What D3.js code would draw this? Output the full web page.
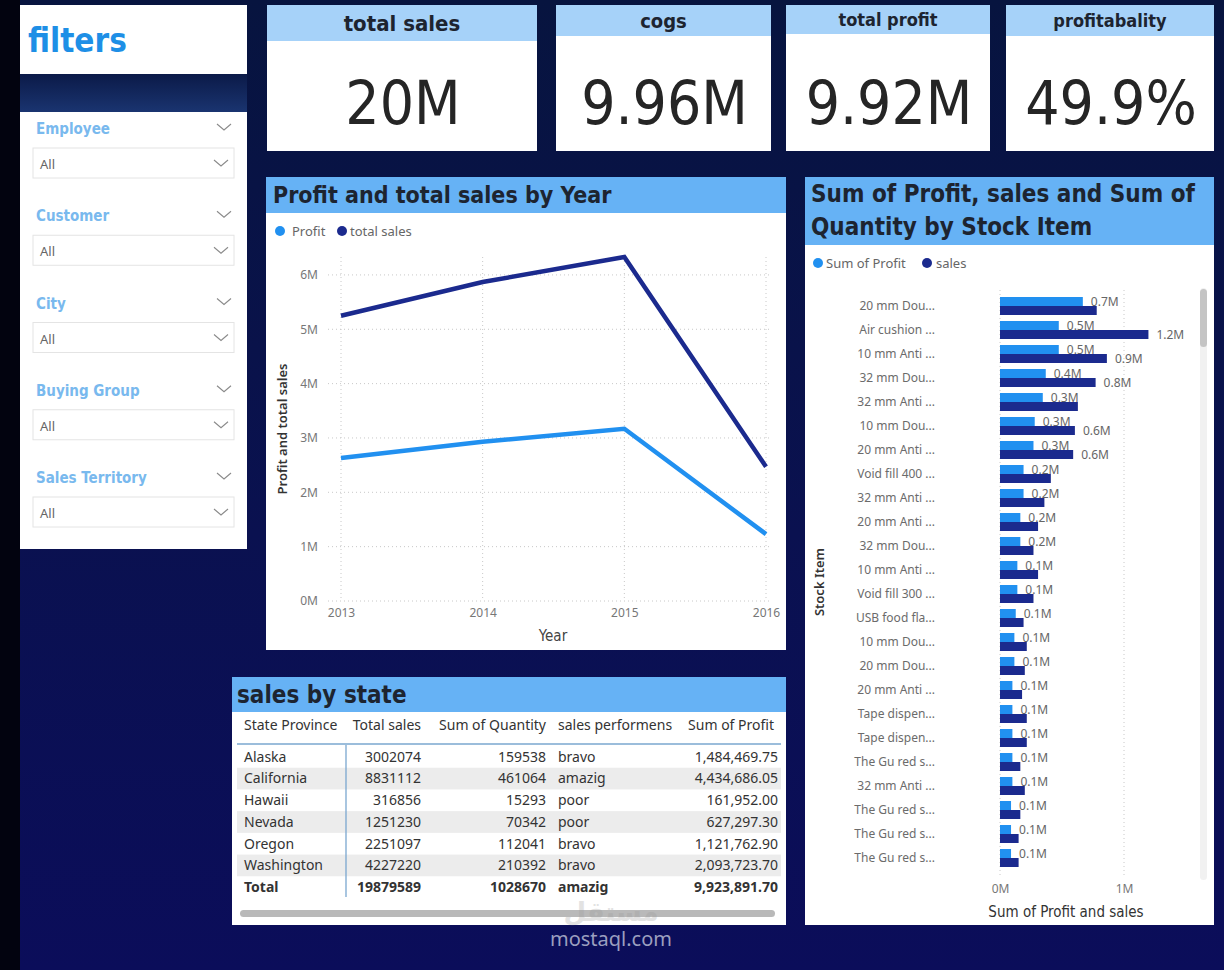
<!DOCTYPE html>
<html>
<head>
<meta charset="utf-8">
<script src="https://cdn.jsdelivr.net/npm/d3@7"></script>
<style>
  body { margin: 0; background: #000; }
  svg { display: block; }
</style>
</head>
<body>
<script>
// ---- data ----
const kpiLabels = ["total sales", "cogs", "total profit", "profitabality"];
const kpiValues = ["20M", "9.96M", "9.92M", "49.9%"];

const filterNames = ["Employee", "Customer", "City", "Buying Group", "Sales Territory"];

const years = [2013, 2014, 2015, 2016];
const profitByYear = [2.63e6, 2.93e6, 3.17e6, 1.23e6];
const salesByYear = [5.25e6, 5.87e6, 6.33e6, 2.47e6];

const stockItems = [
  "20 mm Dou...", "Air cushion ...", "10 mm Anti ...", "32 mm Dou...", "32 mm Anti ...",
  "10 mm Dou...", "20 mm Anti ...", "Void fill 400 ...", "32 mm Anti ...", "20 mm Anti ...",
  "32 mm Dou...", "10 mm Anti ...", "Void fill 300 ...", "USB food fla...", "10 mm Dou...",
  "20 mm Dou...", "20 mm Anti ...", "Tape dispen...", "Tape dispen...", "The Gu red s...",
  "32 mm Anti ...", "The Gu red s...", "The Gu red s...", "The Gu red s..."
];
const itemProfit = [
  0.668e6, 0.474e6, 0.474e6, 0.369e6, 0.345e6, 0.28e6, 0.27e6, 0.19e6, 0.19e6, 0.164e6,
  0.164e6, 0.14e6, 0.14e6, 0.127e6, 0.116e6, 0.116e6, 0.10e6, 0.10e6, 0.10e6, 0.10e6,
  0.10e6, 0.089e6, 0.089e6, 0.089e6
];
const itemSales = [
  0.78e6, 1.197e6, 0.862e6, 0.771e6, 0.628e6, 0.604e6, 0.59e6, 0.41e6, 0.358e6, 0.307e6,
  0.27e6, 0.307e6, 0.27e6, 0.19e6, 0.216e6, 0.2e6, 0.178e6, 0.216e6, 0.216e6, 0.164e6,
  0.2e6, 0.164e6, 0.15e6, 0.15e6
];

const tableHeaders = ["State Province", "Total sales", "Sum of Quantity", "sales performens", "Sum of Profit"];
const states = ["Alaska", "California", "Hawaii", "Nevada", "Oregon", "Washington"];
const stateSales = [3002074, 8831112, 316856, 1251230, 2251097, 4227220];
const stateQty = [159538, 461064, 15293, 70342, 112041, 210392];
const statePerf = ["bravo", "amazig", "poor", "poor", "bravo", "bravo"];
const stateProfit = [1484469.75, 4434686.05, 161952.00, 627297.30, 1121762.90, 2093723.70];
const totalRow = ["Total", 19879589, 1028670, "amazig", 9923891.70];

// ---- style ----
const titleFont = "'DejaVu Sans Condensed', 'DejaVu Sans', sans-serif";
const bodyFont = "'Noto Sans', 'Open Sans', sans-serif";
const cProfit = "#2190f0";
const cSales = "#1b2a8e";
const bandBlue = "#66b2f5";
const kpiBlue = "#a6d2f9";
const titleInk = "#1d2430";

const W = 1224, H = 970;
const svg = d3.select("body").append("svg").attr("width", W).attr("height", H);

// background
const defs = svg.append("defs");
const bg = defs.append("linearGradient").attr("id", "bg")
  .attr("x1", 0).attr("y1", 0).attr("x2", 0).attr("y2", 1);
bg.append("stop").attr("offset", "0%").attr("stop-color", "#07143f");
bg.append("stop").attr("offset", "55%").attr("stop-color", "#0a1150");
bg.append("stop").attr("offset", "100%").attr("stop-color", "#0b0d5a");
svg.append("rect").attr("width", W).attr("height", H).attr("fill", "url(#bg)");
svg.append("rect").attr("width", 20).attr("height", H).attr("fill", "#02030f");

// ---- filters panel ----
svg.append("rect").attr("x", 20).attr("y", 5).attr("width", 227).attr("height", 69).attr("fill", "#fff");
svg.append("text").text("filters")
  .attr("x", 28).attr("y", 52)
  .attr("font-family", titleFont).attr("font-weight", "bold")
  .attr("font-size", 33).attr("fill", "#1e8fe6");
const strip = defs.append("linearGradient").attr("id", "strip")
  .attr("x1", 0).attr("y1", 0).attr("x2", 0).attr("y2", 1);
strip.append("stop").attr("offset", "0%").attr("stop-color", "#0b1a48");
strip.append("stop").attr("offset", "100%").attr("stop-color", "#1a3470");
svg.append("rect").attr("x", 20).attr("y", 74).attr("width", 227).attr("height", 38).attr("fill", "url(#strip)");
svg.append("rect").attr("x", 20).attr("y", 112).attr("width", 227).attr("height", 437).attr("fill", "#fff");

function chevron(g, x, y) {
  g.append("path")
    .attr("d", `M${x - 7},${y - 3} L${x},${y + 3} L${x + 7},${y - 3}`)
    .attr("fill", "none").attr("stroke", "#8a8a8a").attr("stroke-width", 1.1);
}

const slicerY = d3.scaleLinear().domain([0, filterNames.length - 1]).range([129, 478]);
filterNames.forEach((name, i) => {
  const y = slicerY(i);
  const g = svg.append("g");
  g.append("text").text(name)
    .attr("x", 36).attr("y", y + 5)
    .attr("font-family", titleFont).attr("font-weight", "bold")
    .attr("font-size", 15).attr("fill", "#79b9ee");
  chevron(g, 224, y - 2);
  g.append("rect").attr("x", 33).attr("y", y + 19).attr("width", 201).attr("height", 30)
    .attr("fill", "#fff").attr("stroke", "#e4e4e4");
  g.append("text").text("All")
    .attr("x", 40).attr("y", y + 40)
    .attr("font-family", bodyFont).attr("font-size", 13).attr("fill", "#666");
  chevron(g, 221, y + 34);
});

// ---- KPI cards ----
const kpiBoxes = [
  { x: 267, w: 270, hh: 36, fs: 22 },
  { x: 556, w: 215, hh: 31, fs: 20 },
  { x: 786, w: 204, hh: 29, fs: 18 },
  { x: 1006, w: 208, hh: 31, fs: 18 }
];
kpiBoxes.forEach((b, i) => {
  svg.append("rect").attr("x", b.x).attr("y", 5).attr("width", b.w).attr("height", 146).attr("fill", "#fff");
  svg.append("rect").attr("x", b.x).attr("y", 5).attr("width", b.w).attr("height", b.hh).attr("fill", kpiBlue);
  svg.append("text").text(kpiLabels[i])
    .attr("x", b.x + b.w / 2).attr("y", 5 + b.hh / 2)
    .attr("dy", "0.35em").attr("text-anchor", "middle")
    .attr("font-family", titleFont).attr("font-weight", "bold")
    .attr("font-size", b.fs).attr("fill", titleInk);
  svg.append("text").text(kpiValues[i])
    .attr("x", b.x + b.w / 2 + 1).attr("y", 124)
    .attr("text-anchor", "middle")
    .attr("font-family", titleFont)
    .attr("font-size", 60).attr("fill", "#252525");
});

// ---- line chart ----
const lc = svg.append("g");
lc.append("rect").attr("x", 266).attr("y", 177).attr("width", 520).attr("height", 473).attr("fill", "#fff");
lc.append("rect").attr("x", 266).attr("y", 177).attr("width", 520).attr("height", 36).attr("fill", bandBlue);
lc.append("text").text("Profit and total sales by Year")
  .attr("x", 273).attr("y", 203)
  .attr("font-family", titleFont).attr("font-weight", "bold")
  .attr("font-size", 23).attr("fill", titleInk);

const legend1 = [["Profit", cProfit, 280, 292], ["total sales", cSales, 342, 350]];
legend1.forEach(([t, c, cx, tx]) => {
  lc.append("circle").attr("cx", cx).attr("cy", 231).attr("r", 5).attr("fill", c);
  lc.append("text").text(t).attr("x", tx).attr("y", 231).attr("dy", "0.35em")
    .attr("font-family", bodyFont).attr("font-size", 13).attr("fill", "#666");
});

const lx = d3.scalePoint().domain(years).range([341, 766]);
const ly = d3.scaleLinear().domain([0, 6.33e6]).range([601, 257]);
const yTicks = d3.range(0, 7e6, 1e6);

lc.append("g").selectAll("line").data(yTicks).join("line")
  .attr("x1", 328).attr("x2", 772)
  .attr("y1", d => ly(d)).attr("y2", d => ly(d))
  .attr("stroke", "#c8c8c8").attr("stroke-dasharray", "1,3");
lc.append("g").selectAll("line").data(years).join("line")
  .attr("x1", d => lx(d)).attr("x2", d => lx(d))
  .attr("y1", 257).attr("y2", 601)
  .attr("stroke", "#c8c8c8").attr("stroke-dasharray", "1,3");

const yAxis = lc.append("g").attr("transform", "translate(321,0)")
  .call(d3.axisLeft(ly).tickValues(yTicks).tickFormat(d => d / 1e6 + "M").tickSize(0).tickPadding(3));
yAxis.select(".domain").remove();
yAxis.selectAll("text").attr("font-family", bodyFont).attr("font-size", 12).attr("fill", "#777");

const xAxis = lc.append("g").attr("transform", "translate(0,601)")
  .call(d3.axisBottom(lx).tickFormat(d3.format("d")).tickSize(0).tickPadding(7));
xAxis.select(".domain").remove();
xAxis.selectAll("text").attr("font-family", bodyFont).attr("font-size", 12).attr("fill", "#777");

lc.append("text").text("Year")
  .attr("x", 553).attr("y", 641).attr("text-anchor", "middle")
  .attr("font-family", titleFont).attr("font-size", 15).attr("fill", "#444");
lc.append("text").text("Profit and total sales")
  .attr("transform", "translate(287,429) rotate(-90)")
  .attr("text-anchor", "middle")
  .attr("font-family", bodyFont).attr("font-weight", 600)
  .attr("font-size", 13).attr("fill", "#333");

const line = d3.line().x((d, i) => lx(years[i])).y(d => ly(d));
lc.append("path").datum(salesByYear).attr("d", line)
  .attr("fill", "none").attr("stroke", cSales).attr("stroke-width", 4.5);
lc.append("path").datum(profitByYear).attr("d", line)
  .attr("fill", "none").attr("stroke", cProfit).attr("stroke-width", 4.5);

// ---- bar chart ----
const bc = svg.append("g");
bc.append("rect").attr("x", 805).attr("y", 177).attr("width", 409).attr("height", 748).attr("fill", "#fff");
bc.append("rect").attr("x", 805).attr("y", 177).attr("width", 409).attr("height", 68).attr("fill", bandBlue);
bc.append("text").text("Sum of Profit, sales and Sum of")
  .attr("x", 811).attr("y", 202)
  .attr("font-family", titleFont).attr("font-weight", "bold")
  .attr("font-size", 24).attr("fill", titleInk);
bc.append("text").text("Quantity by Stock Item")
  .attr("x", 811).attr("y", 235)
  .attr("font-family", titleFont).attr("font-weight", "bold")
  .attr("font-size", 24).attr("fill", titleInk);

const legend2 = [["Sum of Profit", cProfit, 818, 826], ["sales", cSales, 927, 936]];
legend2.forEach(([t, c, cx, tx]) => {
  bc.append("circle").attr("cx", cx).attr("cy", 263).attr("r", 5).attr("fill", c);
  bc.append("text").text(t).attr("x", tx).attr("y", 263).attr("dy", "0.35em")
    .attr("font-family", bodyFont).attr("font-size", 13).attr("fill", "#666");
});

const by = d3.scaleBand().domain(d3.range(stockItems.length)).range([294, 870])
  .paddingInner(0.25).paddingOuter(0.125);
const bx = d3.scaleLinear().domain([0, 1e6]).range([1000, 1124]);
const half = by.bandwidth() / 2;

bc.append("g").selectAll("line").data([0, 1e6]).join("line")
  .attr("x1", d => bx(d)).attr("x2", d => bx(d))
  .attr("y1", 290).attr("y2", 878)
  .attr("stroke", "#c8c8c8").attr("stroke-dasharray", "1,3");

bc.append("g").selectAll("text").data(stockItems).join("text")
  .text(d => d)
  .attr("x", 935).attr("y", (d, i) => by(i) + half).attr("dy", "0.35em")
  .attr("text-anchor", "end")
  .attr("font-family", bodyFont).attr("font-size", 12).attr("fill", "#6b6b6b");

bc.append("g").selectAll("rect").data(itemProfit).join("rect")
  .attr("x", bx(0)).attr("y", (d, i) => by(i))
  .attr("width", d => bx(d) - bx(0)).attr("height", half)
  .attr("fill", cProfit);
bc.append("g").selectAll("rect").data(itemSales).join("rect")
  .attr("x", bx(0)).attr("y", (d, i) => by(i) + half)
  .attr("width", d => bx(d) - bx(0)).attr("height", half)
  .attr("fill", cSales);

const fmtM = v => d3.format(".1f")(v / 1e6) + "M";
const labelGap = 8, labelW = 28;
bc.append("g").selectAll("text").data(itemProfit).join("text")
  .text(fmtM)
  .attr("x", d => bx(d) + labelGap).attr("y", (d, i) => by(i) + half / 2).attr("dy", "0.35em")
  .attr("font-family", bodyFont).attr("font-size", 12).attr("fill", "#666");
// sales labels only where they don't collide with the profit label
bc.append("g").selectAll("text")
  .data(itemSales.map((v, i) => ({ v, i })).filter(d => bx(d.v) > bx(itemProfit[d.i]) + labelGap + labelW))
  .join("text")
  .text(d => fmtM(d.v))
  .attr("x", d => bx(d.v) + labelGap).attr("y", d => by(d.i) + half * 1.5).attr("dy", "0.35em")
  .attr("font-family", bodyFont).attr("font-size", 12).attr("fill", "#666");

const bAxis = bc.append("g").attr("transform", "translate(0,884)")
  .call(d3.axisBottom(bx).tickValues([0, 1e6]).tickFormat(d => d / 1e6 + "M").tickSize(0).tickPadding(0));
bAxis.select(".domain").remove();
bAxis.selectAll("text").attr("font-family", bodyFont).attr("font-size", 12).attr("fill", "#777");

bc.append("text").text("Sum of Profit and sales")
  .attr("x", 1066).attr("y", 917).attr("text-anchor", "middle")
  .attr("font-family", titleFont).attr("font-size", 15).attr("fill", "#333");
bc.append("text").text("Stock Item")
  .attr("transform", "translate(824,582) rotate(-90)")
  .attr("text-anchor", "middle")
  .attr("font-family", bodyFont).attr("font-weight", 600)
  .attr("font-size", 13).attr("fill", "#333");

// scrollbar
bc.append("rect").attr("x", 1200).attr("y", 288).attr("width", 7).attr("height", 592).attr("rx", 3.5).attr("fill", "#f1f1f1");
bc.append("rect").attr("x", 1200).attr("y", 289).attr("width", 7).attr("height", 58).attr("rx", 3.5).attr("fill", "#c4c4c4");

// ---- table ----
const tb = svg.append("g");
tb.append("rect").attr("x", 232).attr("y", 677).attr("width", 554).attr("height", 248).attr("fill", "#fff");
tb.append("rect").attr("x", 232).attr("y", 677).attr("width", 554).attr("height", 35).attr("fill", bandBlue);
tb.append("text").text("sales by state")
  .attr("x", 237).attr("y", 703)
  .attr("font-family", titleFont).attr("font-weight", "bold")
  .attr("font-size", 24).attr("fill", titleInk);

const cols = [
  { x: 244, anchor: "start", hx: 244 },
  { x: 421, anchor: "end", hx: 421 },
  { x: 546, anchor: "end", hx: 546 },
  { x: 558, anchor: "start", hx: 558 },
  { x: 778, anchor: "end", hx: 774 }
];
tableHeaders.forEach((h, j) => {
  tb.append("text").text(h)
    .attr("x", cols[j].hx).attr("y", 725).attr("dy", "0.35em")
    .attr("text-anchor", cols[j].anchor)
    .attr("font-family", bodyFont).attr("font-size", 14).attr("fill", "#333");
});
tb.append("line").attr("x1", 237).attr("x2", 781).attr("y1", 744).attr("y2", 744)
  .attr("stroke", "#7aa7cf").attr("stroke-width", 1.5);

const rowsData = states.map((s, i) => [s, stateSales[i], stateQty[i], statePerf[i], stateProfit[i]]);
rowsData.push(totalRow);
const ry = d3.scaleBand().domain(d3.range(rowsData.length)).range([746, 898]);
tb.append("g").selectAll("rect").data(d3.range(states.length).filter(i => i % 2 === 1)).join("rect")
  .attr("x", 237).attr("width", 544)
  .attr("y", i => ry(i)).attr("height", ry.bandwidth())
  .attr("fill", "#ececec");
tb.append("line").attr("x1", 346).attr("x2", 346).attr("y1", 745).attr("y2", 897)
  .attr("stroke", "#7aa7cf").attr("stroke-width", 1.3);

const fmtCell = [d => d, d => d, d => d, d => d, d3.format(",.2f")];
rowsData.forEach((row, i) => {
  row.forEach((v, j) => {
    tb.append("text").text(fmtCell[j](v))
      .attr("x", cols[j].x).attr("y", ry(i) + ry.bandwidth() / 2).attr("dy", "0.35em")
      .attr("text-anchor", cols[j].anchor)
      .attr("font-family", bodyFont).attr("font-size", 14)
      .attr("font-weight", i === rowsData.length - 1 ? "bold" : "normal")
      .attr("fill", "#333");
  });
});
tb.append("rect").attr("x", 240).attr("y", 910).attr("width", 535).attr("height", 7).attr("rx", 3.5).attr("fill", "#b9b9b9");

// ---- watermark ----
svg.append("text").text("مستقل")
  .attr("x", 611).attr("y", 921).attr("text-anchor", "middle")
  .attr("font-family", "'DejaVu Sans', sans-serif").attr("font-weight", "bold")
  .attr("font-size", 26).attr("fill", "#9a9a9a").attr("opacity", 0.28);
svg.append("text").text("mostaql.com")
  .attr("x", 611).attr("y", 946).attr("text-anchor", "middle")
  .attr("font-family", bodyFont).attr("font-size", 20).attr("fill", "#9b9fbf");
</script>
</body>
</html>
